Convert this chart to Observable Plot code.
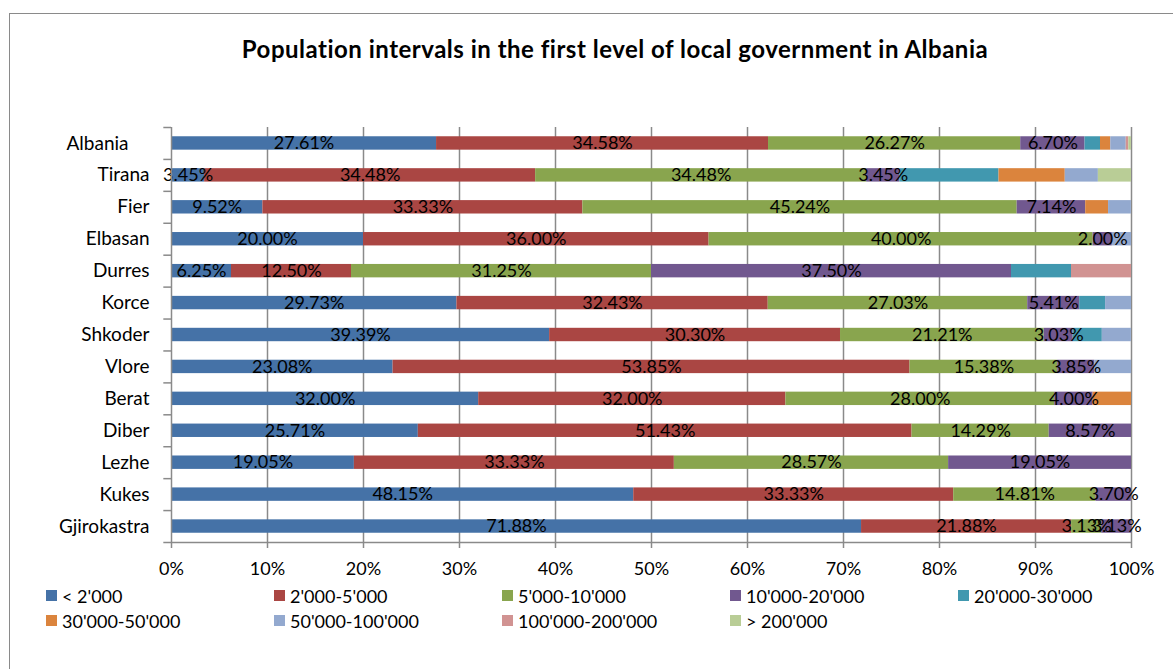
<!DOCTYPE html>
<html>
<head>
<meta charset="utf-8">
<script src="https://cdn.jsdelivr.net/npm/d3@7"></script>
<script src="https://cdn.jsdelivr.net/npm/@observablehq/plot@0.6"></script>
<style>
  html, body { margin: 0; padding: 0; background: #fff; overflow: hidden; }
  body { width: 1173px; height: 669px; position: relative; font-family: Lato, "Open Sans", sans-serif; }
  #frame { position: absolute; left: 9px; top: 13px; width: 1400px; height: 900px; border: 1.5px solid #8a8a8a; box-sizing: border-box; }
  #title { position: absolute; left: 0; top: 35px; width: 1230px; text-align: center; font-weight: bold; font-size: 24px; letter-spacing: 0.5px; line-height: 28px; color: #000; }
  #chart { position: absolute; left: 0; top: 100px; }
  #legend { position: absolute; left: 46px; top: 583px; display: grid; grid-template-columns: repeat(5, 228px); grid-auto-rows: 25px; font-size: 18px; color: #000; }
  .item { display: flex; align-items: center; white-space: nowrap; }
  .sw { width: 11px; height: 11px; margin-right: 5px; flex: none; }
</style>
</head>
<body>
<div id="frame"></div>
<div id="title">Population intervals in the first level of local government in Albania</div>
<div id="chart"></div>
<div id="legend"></div>
<script>
const regions = ["Albania","Tirana","Fier","Elbasan","Durres","Korce","Shkoder","Vlore","Berat","Diber","Lezhe","Kukes","Gjirokastra"];
const seriesNames = ["< 2'000","2'000-5'000","5'000-10'000","10'000-20'000","20'000-30'000","30'000-50'000","50'000-100'000","100'000-200'000","> 200'000"];
const colors = ["#4572A7","#AA4643","#89A54E","#71588F","#4198AF","#DB843D","#93A9CF","#D19392","#B9CD96"];
const xTicks = [0,10,20,30,40,50,60,70,80,90,100];

const lt2k    = [27.61, 3.45, 9.52, 20.00, 6.25, 29.73, 39.39, 23.08, 32.00, 25.71, 19.05, 48.15, 71.88];
const k2_5    = [34.58, 34.48, 33.33, 36.00, 12.50, 32.43, 30.30, 53.85, 32.00, 51.43, 33.33, 33.33, 21.88];
const k5_10   = [26.27, 34.48, 45.24, 40.00, 31.25, 27.03, 21.21, 15.38, 28.00, 14.29, 28.57, 14.81, 3.13];
const k10_20  = [6.70, 3.45, 7.14, 2.00, 37.50, 5.41, 3.03, 3.85, 4.00, 8.57, 19.05, 3.70, 3.13];
const k20_30  = [1.61, 10.34, 0, 0, 6.25, 2.70, 3.03, 0, 0, 0, 0, 0, 0];
const k30_50  = [1.07, 6.90, 2.38, 0, 0, 0, 0, 0, 4.00, 0, 0, 0, 0];
const k50_100 = [1.61, 3.45, 2.38, 2.00, 0, 2.70, 3.03, 3.85, 0, 0, 0, 0, 0];
const k100_200 = [0.27, 0, 0, 0, 6.25, 0, 0, 0, 0, 0, 0, 0, 0];
const gt200   = [0.27, 3.45, 0, 0, 0, 0, 0, 0, 0, 0, 0, 0, 0];

const seriesValues = [lt2k, k2_5, k5_10, k10_20, k20_30, k30_50, k50_100, k100_200, gt200];
const table = [];
seriesValues.forEach((vals, s) => vals.forEach((v, i) => {
  if (v > 0) table.push({region: regions[i], series: seriesNames[s], value: v, labeled: s < 4});
}));

const W = 1173, H = 500, mL = 171, mR = 42, mT = 27, mB = 58;
const step = (H - mT - mB) / regions.length;
const axisColor = "#8a8a8a";

const chart = Plot.plot({
  width: W, height: H,
  marginLeft: mL, marginRight: mR, marginTop: mT, marginBottom: mB,
  style: {fontFamily: "Lato, 'Open Sans', sans-serif", fontSize: "18px", color: "#000", background: "transparent", overflow: "visible"},
  x: {domain: [0, 100], label: null},
  y: {domain: regions, paddingInner: 0.58, paddingOuter: 0.29, round: false, label: null},
  color: {domain: seriesNames, range: colors},
  marks: [
    Plot.ruleX(xTicks.slice(1), {stroke: axisColor, strokeWidth: 1.5}),
    Plot.barX(table, Plot.stackX({x: "value", y: "region", fill: "series", order: seriesNames})),
    Plot.text(table, Plot.stackX({
      x: "value", y: "region", z: "series", order: seriesNames,
      text: d => d.labeled ? d.value.toFixed(2) + "%" : null,
      fill: "#000"
    })),
    Plot.ruleX([0], {stroke: axisColor, strokeWidth: 1.5}),
    Plot.ruleY(regions, {y: d => d, x1: -0.8, x2: 0, dy: -step / 2, stroke: axisColor, strokeWidth: 1.5}),
    Plot.ruleY(regions.slice(-1), {y: d => d, x1: -0.8, x2: 100, dy: step / 2, stroke: axisColor, strokeWidth: 1.5}),
    Plot.axisX({ticks: xTicks, tickFormat: d => d + "%", tickSize: 6, tickPadding: 14, stroke: axisColor, strokeWidth: 1.5, fill: "#000", label: null}),
    Plot.axisY(regions.slice(0, 1), {tickSize: 0, tickPadding: 43, fontSize: 19, fill: "#000", label: null}),
    Plot.axisY(regions.slice(1), {tickSize: 0, tickPadding: 22, fontSize: 19, fill: "#000", label: null})
  ]
});
document.getElementById("chart").appendChild(chart);

const legend = document.getElementById("legend");
seriesNames.forEach((name, i) => {
  const item = document.createElement("div");
  item.className = "item";
  const sw = document.createElement("span");
  sw.className = "sw";
  sw.style.background = colors[i];
  const label = document.createElement("span");
  label.textContent = name;
  item.appendChild(sw);
  item.appendChild(label);
  legend.appendChild(item);
});
</script>
</body>
</html>
